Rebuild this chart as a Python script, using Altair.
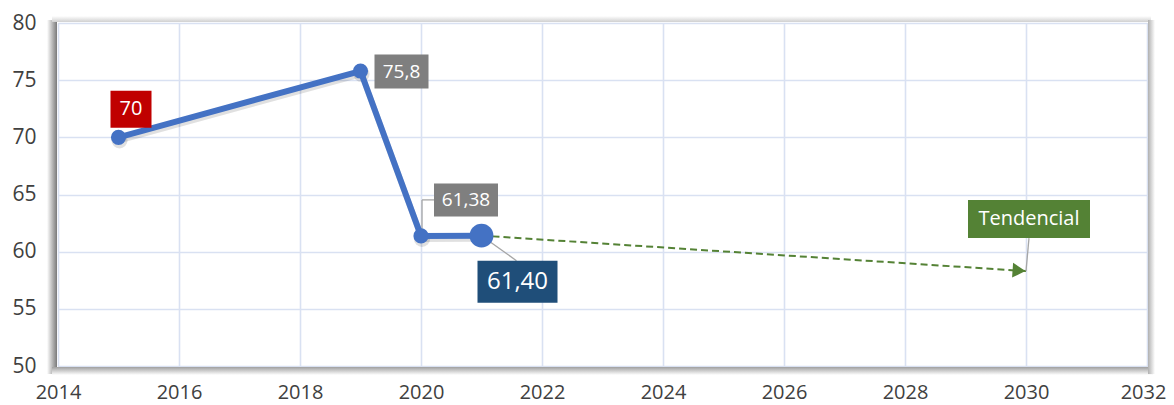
import altair as alt
import pandas as pd

# ---- data ----
years = [2015, 2019, 2020, 2021]
values = [70.0, 75.8, 61.38, 61.40]
value_labels = ["70", "75,8", "61,38", "61,40"]
trend_years = [2021, 2030]
trend_values = [61.40, 58.3]
trend_label = "Tendencial"
x_ticks = [2014, 2016, 2018, 2020, 2022, 2024, 2026, 2028, 2030, 2032]
y_ticks = [50, 55, 60, 65, 70, 75, 80]

W, H = 1089, 343
FONT = "Open Sans"
BLUE = "#4472C4"
GREEN = "#548235"

main = pd.DataFrame({"year": years, "value": values, "label": value_labels})
trend = pd.DataFrame({"year": trend_years, "value": trend_values})
trend_end = pd.DataFrame({"year": trend_years[-1:], "value": trend_values[-1:], "label": [trend_label]})

xs = alt.Scale(domain=[x_ticks[0], x_ticks[-1]], nice=False, zero=False)
ys = alt.Scale(domain=[y_ticks[0], y_ticks[-1]], nice=False, zero=False)

X = alt.X("year:Q", scale=xs, title=None,
          axis=alt.Axis(values=x_ticks, format="d", labelPadding=16, labelFlush=False,
                        labelFontSize=20,
                        labelOffset={"condition": {"test": f"datum.value == {x_ticks[-1]}", "value": -4},
                                     "value": 0}))
Y = alt.Y("value:Q", scale=ys, title=None,
          axis=alt.Axis(values=y_ticks, labelPadding=22))

one = pd.DataFrame({"k": [0]})


def grad(c_from, c_to, horizontal):
    return alt.LinearGradient(
        gradient="linear",
        stops=[alt.GradientStop(color=c_from, offset=0), alt.GradientStop(color=c_to, offset=1)],
        x1=0, x2=1 if horizontal else 0, y1=0, y2=0 if horizontal else 1,
    )


# frame shadow (decoration around the plot area)
shadow_left = alt.Chart(one).mark_rect(color=grad("#ffffff", "#7a7a7a", True)).encode(
    x=alt.value(-11), x2=alt.value(-1), y=alt.value(-3), y2=alt.value(H + 8))
shadow_bottom = alt.Chart(one).mark_rect(color=grad("#a0a0a0", "#ffffff", False)).encode(
    x=alt.value(-6), x2=alt.value(W + 6), y=alt.value(H + 1), y2=alt.value(H + 9))
shadow_top = alt.Chart(one).mark_rect(color=grad("#ffffff", "#d0d0d0", False)).encode(
    x=alt.value(-6), x2=alt.value(W + 4), y=alt.value(-7), y2=alt.value(-1))
shadow_right = alt.Chart(one).mark_rect(color=grad("#b0b0b0", "#ffffff", True)).encode(
    x=alt.value(W + 1), x2=alt.value(W + 8), y=alt.value(-3), y2=alt.value(H + 8))

base = alt.Chart(main).encode(x=X, y=Y)

line_shadow = base.mark_line(color="#000000", opacity=0.12, strokeWidth=6, xOffset=1, yOffset=3)
line = base.mark_line(color=BLUE, strokeWidth=6)

small_pts = alt.Chart(main.iloc[:3]).mark_circle(color=BLUE, size=230, opacity=1).encode(x=X, y=Y)
big_pt = alt.Chart(main.iloc[3:]).mark_circle(color=BLUE, size=570, opacity=1).encode(x=X, y=Y)
pts_shadow = alt.Chart(main).mark_circle(color="#000000", size=260, opacity=0.12, xOffset=1, yOffset=3).encode(x=X, y=Y)

trend_line = alt.Chart(trend).mark_line(color=GREEN, strokeWidth=2, strokeDash=[7, 4]).encode(x=X, y=Y)
trend_arrow = alt.Chart(trend_end).mark_point(
    shape="triangle-right", filled=True, color=GREEN, opacity=1, size=220, angle=4, xOffset=-7, yOffset=-0.5
).encode(x=X, y=Y)


def leader(df, segs):
    layers = []
    for (x1, y1, x2, y2) in segs:
        layers.append(
            alt.Chart(df).mark_rule(color="#a6a6a6", strokeWidth=1.3,
                                    xOffset=x1, yOffset=y1, x2Offset=x2, y2Offset=y2)
            .encode(x=X, x2=alt.X2("year:Q"), y=Y, y2=alt.Y2("value:Q"))
        )
    return layers


def tag(df, fill, dx, dy, w, h, fs):
    box = alt.Chart(df).mark_rect(color=fill, width=w, height=h, xOffset=dx, yOffset=dy, opacity=1).encode(x=X, y=Y)
    txt = alt.Chart(df).mark_text(color="white", font=FONT, fontSize=fs, xOffset=dx, yOffset=dy,
                                  align="center", baseline="middle").encode(x=X, y=Y, text="label:N")
    return [box, txt]


r0, r1, r2, r3 = (main.iloc[[i]] for i in range(4))

layers = [shadow_left, shadow_bottom, shadow_top, shadow_right,
          trend_line, trend_arrow]
layers += leader(r2, [(1, 0, 1, -36), (1, -36, 13, -36)])
layers += leader(r3, [(0, 0, 35, 25)])
layers += leader(trend_end, [(0, 0, 3, -33)])
layers += [line_shadow, pts_shadow, line, small_pts, big_pt]
layers += tag(r0, "#C00000", 12.5, -28, 41, 37, 20)
layers += tag(r1, "#7F7F7F", 41, 0.5, 54, 34, 19)
layers += tag(r2, "#7F7F7F", 45, -36, 64, 33, 19)
layers += tag(r3, "#1F4E79", 36, 46, 80, 42, 24)
layers += tag(trend_end, GREEN, 3, -52, 122, 38, 20)

chart = alt.layer(*layers).properties(
    width=W, height=H,
    background="white",
    autosize=alt.AutoSizeParams(type="none"),
    padding={"left": 50, "top": 15, "right": 19, "bottom": 39},
).configure_view(
    stroke="#d0d0d0", strokeWidth=1, fill="white"
).configure_axis(
    grid=True, gridColor="#d9e1f2", gridWidth=1.6,
    domain=False, ticks=False,
    labelFont=FONT, labelFontSize=21, labelColor="#404040",
)

chart.save("out.html", embed_options={"renderer": "svg", "actions": False})
